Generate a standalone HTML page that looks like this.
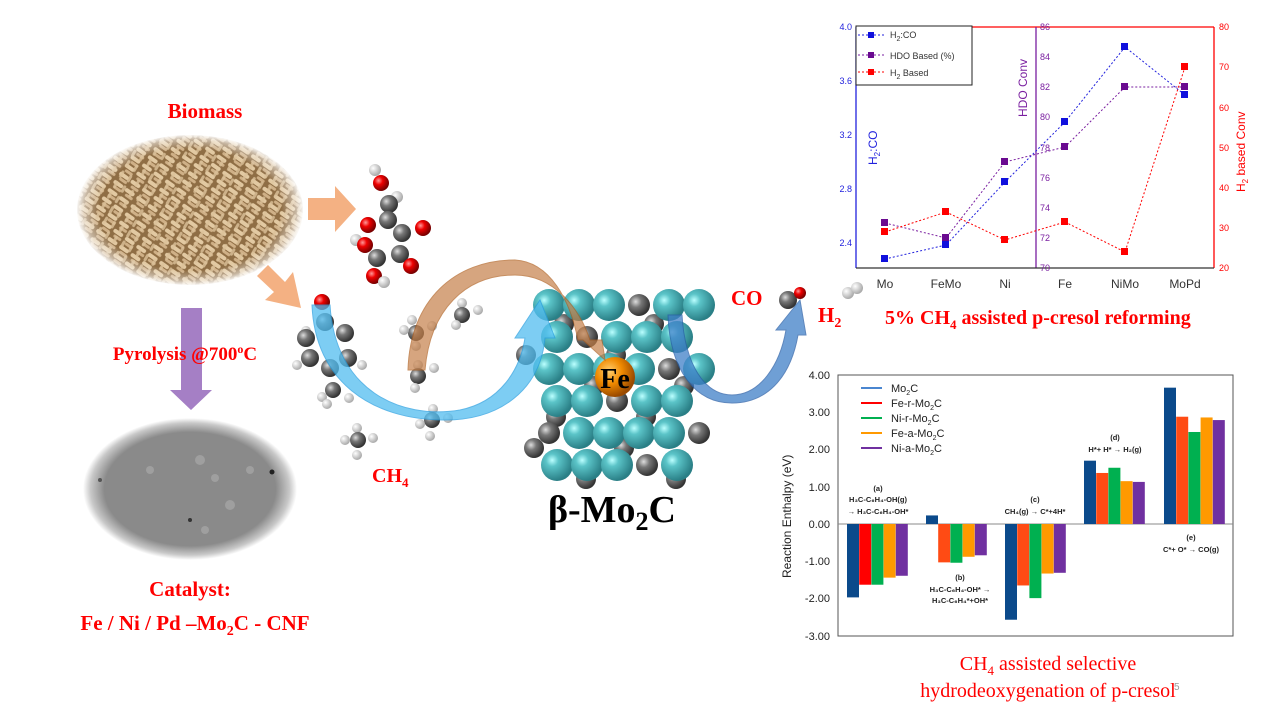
<!DOCTYPE html>
<html><head><meta charset="utf-8"><style>
body{margin:0;background:#fff}
svg{display:block}
.t{font-family:"Liberation Serif",serif;fill:#f00;font-weight:bold}
.s{font-family:"Liberation Sans",sans-serif}
</style></head><body>
<svg width="1280" height="720" viewBox="0 0 1280 720" xmlns="http://www.w3.org/2000/svg">
<defs>
<radialGradient id="bio" cx="50%" cy="50%" r="50%"><stop offset="0.8" stop-color="#fff" stop-opacity="0"/><stop offset="0.93" stop-color="#fff" stop-opacity="0.5"/><stop offset="1" stop-color="#fff" stop-opacity="1"/></radialGradient>
<radialGradient id="tem" cx="50%" cy="50%" r="50%"><stop offset="0.8" stop-color="#8a8a8a"/><stop offset="0.93" stop-color="#c8c8c8"/><stop offset="1" stop-color="#fff"/></radialGradient>
<radialGradient id="teal" cx="35%" cy="35%" r="65%"><stop offset="0" stop-color="#bff"/><stop offset="0.3" stop-color="#5bc4c8"/><stop offset="1" stop-color="#2a7f86"/></radialGradient>
<radialGradient id="gr" cx="35%" cy="35%" r="65%"><stop offset="0" stop-color="#ddd"/><stop offset="0.4" stop-color="#777"/><stop offset="1" stop-color="#333"/></radialGradient>
<radialGradient id="rd" cx="35%" cy="35%" r="65%"><stop offset="0" stop-color="#f99"/><stop offset="0.4" stop-color="#e00"/><stop offset="1" stop-color="#700"/></radialGradient>
<radialGradient id="wh" cx="35%" cy="35%" r="65%"><stop offset="0" stop-color="#fff"/><stop offset="1" stop-color="#aaa"/></radialGradient>
<radialGradient id="fe" cx="35%" cy="35%" r="65%"><stop offset="0" stop-color="#ffd070"/><stop offset="0.5" stop-color="#f08a00"/><stop offset="1" stop-color="#9a4a00"/></radialGradient>
<pattern id="pel" width="14" height="10" patternUnits="userSpaceOnUse" patternTransform="rotate(35)"><rect width="14" height="10" fill="#8f6e45"/><rect x="1" y="1" width="11" height="4" rx="2" fill="#e2c9a2"/><rect x="4" y="6" width="9" height="3" rx="1.5" fill="#cfb087"/></pattern>
<pattern id="pel2" width="12" height="9" patternUnits="userSpaceOnUse" patternTransform="rotate(-60)"><rect width="12" height="9" fill="none"/><rect x="2" y="2" width="8" height="3" rx="1.5" fill="#dcc29a" opacity="0.8"/></pattern>
</defs>

<!-- Biomass -->
<text x="205" y="118" class="t" font-size="21" text-anchor="middle">Biomass</text>
<ellipse cx="190" cy="210" rx="113" ry="75" fill="url(#pel)"/>
<ellipse cx="190" cy="210" rx="113" ry="75" fill="url(#pel2)"/>
<ellipse cx="190" cy="210" rx="114" ry="76" fill="url(#bio)"/>

<!-- orange arrows -->
<polygon points="308,198 335,198 335,186 356,209 335,232 335,220 308,220" fill="#f4b183"/>
<polygon points="268,265 285,282 293,272 301,308 265,300 274,292 257,276" fill="#f4b183"/>

<!-- purple arrow -->
<polygon points="181,308 202,308 202,390 212,390 191,410 170,390 181,390" fill="#a57fc5"/>
<text x="185" y="360" class="t" font-size="19" text-anchor="middle">Pyrolysis @700<tspan font-size="12" dy="-7">o</tspan><tspan dy="7">C</tspan></text>

<!-- TEM -->
<ellipse cx="190" cy="489" rx="107" ry="71" fill="url(#tem)"/>
<g fill="#a8a8a8" opacity="0.7"><circle cx="200" cy="460" r="5"/><circle cx="215" cy="478" r="4"/><circle cx="230" cy="505" r="5"/><circle cx="150" cy="470" r="4"/><circle cx="250" cy="470" r="4"/><circle cx="205" cy="530" r="4"/></g>
<circle cx="272" cy="472" r="2.5" fill="#222"/><circle cx="190" cy="520" r="2" fill="#333"/><circle cx="100" cy="480" r="2" fill="#555"/>
<text x="190" y="596" class="t" font-size="21" text-anchor="middle">Catalyst:</text>
<text x="195" y="630" class="t" font-size="21" text-anchor="middle">Fe / Ni / Pd –Mo<tspan font-size="14" dy="5">2</tspan><tspan dy="-5">C - CNF</tspan></text>

<!-- molecules -->
<g>
<circle cx="375" cy="170" r="6" fill="url(#wh)"/><circle cx="381" cy="183" r="8" fill="url(#rd)"/><circle cx="397" cy="197" r="6" fill="url(#wh)"/><circle cx="389" cy="204" r="9" fill="url(#gr)"/>
<circle cx="388" cy="220" r="9" fill="url(#gr)"/><circle cx="368" cy="225" r="8" fill="url(#rd)"/><circle cx="402" cy="233" r="9" fill="url(#gr)"/><circle cx="423" cy="228" r="8" fill="url(#rd)"/>
<circle cx="356" cy="240" r="6" fill="url(#wh)"/><circle cx="365" cy="245" r="8" fill="url(#rd)"/><circle cx="377" cy="258" r="9" fill="url(#gr)"/><circle cx="400" cy="254" r="9" fill="url(#gr)"/>
<circle cx="410" cy="266" r="6" fill="url(#wh)"/><circle cx="411" cy="266" r="8" fill="url(#rd)"/><circle cx="374" cy="276" r="8" fill="url(#rd)"/><circle cx="384" cy="282" r="6" fill="url(#wh)"/>
<circle cx="322" cy="300" r="5" fill="url(#wh)"/><circle cx="322" cy="302" r="8" fill="url(#rd)"/><circle cx="325" cy="322" r="9" fill="url(#gr)"/><circle cx="345" cy="333" r="9" fill="url(#gr)"/>
<circle cx="306" cy="331" r="5" fill="url(#wh)"/><circle cx="306" cy="338" r="9" fill="url(#gr)"/><circle cx="348" cy="358" r="9" fill="url(#gr)"/><circle cx="310" cy="358" r="9" fill="url(#gr)"/>
<circle cx="330" cy="368" r="9" fill="url(#gr)"/><circle cx="362" cy="365" r="5" fill="url(#wh)"/><circle cx="297" cy="365" r="5" fill="url(#wh)"/><circle cx="333" cy="390" r="8" fill="url(#gr)"/>
<circle cx="322" cy="397" r="5" fill="url(#wh)"/><circle cx="349" cy="398" r="5" fill="url(#wh)"/><circle cx="327" cy="404" r="5" fill="url(#wh)"/>
<circle cx="412" cy="320" r="5" fill="url(#wh)"/><circle cx="416" cy="333" r="8" fill="url(#gr)"/><circle cx="404" cy="330" r="5" fill="url(#wh)"/><circle cx="432" cy="326" r="5" fill="url(#wh)"/><circle cx="416" cy="346" r="5" fill="url(#wh)"/>
<circle cx="462" cy="303" r="5" fill="url(#wh)"/><circle cx="462" cy="315" r="8" fill="url(#gr)"/><circle cx="478" cy="310" r="5" fill="url(#wh)"/><circle cx="456" cy="325" r="5" fill="url(#wh)"/>
<circle cx="418" cy="365" r="5" fill="url(#wh)"/><circle cx="418" cy="376" r="8" fill="url(#gr)"/><circle cx="434" cy="368" r="5" fill="url(#wh)"/><circle cx="415" cy="388" r="5" fill="url(#wh)"/>
<circle cx="433" cy="409" r="5" fill="url(#wh)"/><circle cx="432" cy="420" r="8" fill="url(#gr)"/><circle cx="448" cy="418" r="5" fill="url(#wh)"/><circle cx="420" cy="424" r="5" fill="url(#wh)"/><circle cx="430" cy="436" r="5" fill="url(#wh)"/>
<circle cx="357" cy="428" r="5" fill="url(#wh)"/><circle cx="358" cy="440" r="8" fill="url(#gr)"/><circle cx="373" cy="438" r="5" fill="url(#wh)"/><circle cx="345" cy="440" r="5" fill="url(#wh)"/><circle cx="357" cy="455" r="5" fill="url(#wh)"/>
</g>
<text x="372" y="482" class="t" font-size="20" font-weight="normal">CH<tspan font-size="13" dy="5">4</tspan></text>

<!-- Mo2C cluster -->
<g id="cl"></g>
<circle cx="615" cy="377" r="20" fill="url(#fe)"/>
<text x="615" y="388" font-family="Liberation Serif,serif" font-weight="bold" font-size="28" text-anchor="middle">Fe</text>

<!-- arrows -->
<path d="M312,305 L330,305 C335,390 400,420 460,410 C500,402 520,370 525,338 L515,338 L540,300 L555,338 L545,338 C540,390 500,420 445,420 C370,420 315,380 312,305 Z" fill="#52bdf0" opacity="0.75" stroke="#2a9fe0"/>
<path d="M408,370 L425,370 C430,310 465,275 515,275 C555,275 580,310 590,340 L602,340 L605,360 L583,340 L578,340 C570,300 550,262 515,260 C455,260 410,300 408,370 Z" fill="#c5804a" opacity="0.7" stroke="#b06020"/>
<path d="M668,315 L682,315 C685,365 705,395 732,395 C760,395 780,365 786,330 L776,330 L800,300 L806,335 L798,335 C790,380 765,403 732,403 C695,403 670,370 668,315 Z" fill="#3f80c8" opacity="0.75" stroke="#2a60a8"/>

<text x="612" y="522" font-family="Liberation Serif,serif" font-weight="bold" font-size="38" text-anchor="middle">β-Mo<tspan font-size="26" dy="8">2</tspan><tspan dy="-8">C</tspan></text>

<text x="731" y="305" class="t" font-size="21">CO</text>
<circle cx="788" cy="300" r="9" fill="url(#gr)"/><circle cx="800" cy="293" r="6" fill="url(#rd)"/>
<circle cx="848" cy="293" r="6" fill="url(#wh)"/><circle cx="857" cy="288" r="6" fill="url(#wh)"/>
<text x="818" y="322" class="t" font-size="21">H<tspan font-size="14" dy="5">2</tspan></text>
<text x="885" y="324" class="t" font-size="20" font-weight="normal">5% CH<tspan font-size="13" dy="5">4</tspan><tspan dy="-5"> assisted p-cresol reforming</tspan></text>

<!-- top chart -->
<g class="s">
<line x1="972" y1="27" x2="1214" y2="27" stroke="#f00" stroke-width="1.3"/>
<line x1="856" y1="27" x2="856" y2="268" stroke="#2222dd" stroke-width="1.3"/>
<line x1="1036" y1="27" x2="1036" y2="268" stroke="#7a1fa0" stroke-width="1.3"/>
<line x1="1214" y1="27" x2="1214" y2="268" stroke="#f00" stroke-width="1.3"/>
<line x1="856" y1="268" x2="1214" y2="268" stroke="#333" stroke-width="1.3"/>
<g font-size="9" fill="#2222dd" text-anchor="end"><text x="852" y="30">4.0</text><text x="852" y="84">3.6</text><text x="852" y="138">3.2</text><text x="852" y="192">2.8</text><text x="852" y="246">2.4</text></g>
<g font-size="9" fill="#7a1fa0"><text x="1040" y="30">86</text><text x="1040" y="60">84</text><text x="1040" y="90">82</text><text x="1040" y="120">80</text><text x="1040" y="151">78</text><text x="1040" y="181">76</text><text x="1040" y="211">74</text><text x="1040" y="241">72</text><text x="1040" y="271">70</text></g>
<g font-size="9" fill="#f00"><text x="1219" y="30">80</text><text x="1219" y="70">70</text><text x="1219" y="111">60</text><text x="1219" y="151">50</text><text x="1219" y="191">40</text><text x="1219" y="231">30</text><text x="1219" y="271">20</text></g>
<g font-size="12" fill="#333" text-anchor="middle"><text x="885" y="288">Mo</text><text x="946" y="288">FeMo</text><text x="1005" y="288">Ni</text><text x="1065" y="288">Fe</text><text x="1125" y="288">NiMo</text><text x="1185" y="288">MoPd</text></g>
<text transform="translate(877,165) rotate(-90)" font-size="12" fill="#2222dd">H<tspan font-size="8" dy="3">2</tspan><tspan dy="-3">:CO</tspan></text>
<text transform="translate(1027,117) rotate(-90)" font-size="12" fill="#7a1fa0">HDO Conv</text>
<text transform="translate(1245,192) rotate(-90)" font-size="12" fill="#f00">H<tspan font-size="8" dy="3">2</tspan><tspan dy="-3"> based Conv</tspan></text>
<polyline points="885,259 946,245 1005,182 1065,122 1125,47 1185,95" fill="none" stroke="#2222dd" stroke-dasharray="2,2"/>
<polyline points="885,223 946,238 1005,162 1065,147 1125,87 1185,87" fill="none" stroke="#7a1fa0" stroke-dasharray="2,2"/>
<polyline points="885,232 946,212 1005,240 1065,222 1125,252 1185,67" fill="none" stroke="#f00" stroke-dasharray="2,2"/>
<g fill="#1010dd"><rect x="881" y="255" width="7" height="7"/><rect x="942" y="241" width="7" height="7"/><rect x="1001" y="178" width="7" height="7"/><rect x="1061" y="118" width="7" height="7"/><rect x="1121" y="43" width="7" height="7"/><rect x="1181" y="91" width="7" height="7"/></g>
<g fill="#6a0a90"><rect x="881" y="219" width="7" height="7"/><rect x="942" y="234" width="7" height="7"/><rect x="1001" y="158" width="7" height="7"/><rect x="1061" y="143" width="7" height="7"/><rect x="1121" y="83" width="7" height="7"/><rect x="1181" y="83" width="7" height="7"/></g>
<g fill="#f00"><rect x="881" y="228" width="7" height="7"/><rect x="942" y="208" width="7" height="7"/><rect x="1001" y="236" width="7" height="7"/><rect x="1061" y="218" width="7" height="7"/><rect x="1121" y="248" width="7" height="7"/><rect x="1181" y="63" width="7" height="7"/></g>
<rect x="856" y="26" width="116" height="59" fill="#fff" stroke="#222"/>
<g font-size="9" fill="#333">
<line x1="858" y1="35" x2="886" y2="35" stroke="#2222dd" stroke-dasharray="2,2"/><rect x="868" y="32" width="6" height="6" fill="#1010dd"/><text x="890" y="38">H<tspan font-size="7" dy="3">2</tspan><tspan dy="-3">:CO</tspan></text>
<line x1="858" y1="55" x2="886" y2="55" stroke="#7a1fa0" stroke-dasharray="2,2"/><rect x="868" y="52" width="6" height="6" fill="#6a0a90"/><text x="890" y="59">HDO Based (%)</text>
<line x1="858" y1="72" x2="886" y2="72" stroke="#f00" stroke-dasharray="2,2"/><rect x="868" y="69" width="6" height="6" fill="#f00"/><text x="890" y="76">H<tspan font-size="7" dy="3">2</tspan><tspan dy="-3"> Based</tspan></text>
</g>
</g>

<!-- bottom chart -->
<g class="s">
<rect x="838" y="375" width="395" height="261" fill="#fff" stroke="#555"/>
<line x1="838" y1="524" x2="1233" y2="524" stroke="#888"/>
<g font-size="11" fill="#222" text-anchor="end"><text x="830" y="379">4.00</text><text x="830" y="416">3.00</text><text x="830" y="453">2.00</text><text x="830" y="491">1.00</text><text x="830" y="528">0.00</text><text x="830" y="565">-1.00</text><text x="830" y="602">-2.00</text><text x="830" y="640">-3.00</text></g>
<text transform="translate(791,578) rotate(-90)" font-size="12" fill="#222">Reaction Enthalpy (eV)</text>
<g id="bars"></g>
<g font-size="11" fill="#222">
<line x1="861" y1="388" x2="882" y2="388" stroke="#4a86d0" stroke-width="2"/><text x="891" y="392">Mo<tspan font-size="7" dy="3">2</tspan><tspan dy="-3">C</tspan></text>
<line x1="861" y1="403" x2="882" y2="403" stroke="#f00" stroke-width="2"/><text x="891" y="407">Fe-r-Mo<tspan font-size="7" dy="3">2</tspan><tspan dy="-3">C</tspan></text>
<line x1="861" y1="418" x2="882" y2="418" stroke="#00b050" stroke-width="2"/><text x="891" y="422">Ni-r-Mo<tspan font-size="7" dy="3">2</tspan><tspan dy="-3">C</tspan></text>
<line x1="861" y1="433" x2="882" y2="433" stroke="#ff9900" stroke-width="2"/><text x="891" y="437">Fe-a-Mo<tspan font-size="7" dy="3">2</tspan><tspan dy="-3">C</tspan></text>
<line x1="861" y1="448" x2="882" y2="448" stroke="#7030a0" stroke-width="2"/><text x="891" y="452">Ni-a-Mo<tspan font-size="7" dy="3">2</tspan><tspan dy="-3">C</tspan></text>
</g>
<g font-size="7.5" font-weight="bold" fill="#222" text-anchor="middle">
<text x="878" y="491">(a)</text><text x="878" y="502">H₃C-C₆H₄-OH(g)</text><text x="878" y="514">→ H₃C-C₆H₄-OH*</text>
<text x="960" y="580">(b)</text><text x="960" y="592">H₃C-C₆H₄-OH* →</text><text x="960" y="603">H₃C-C₆H₄*+OH*</text>
<text x="1035" y="502">(c)</text><text x="1035" y="514">CH₄(g) → C*+4H*</text>
<text x="1115" y="440">(d)</text><text x="1115" y="452">H*+ H* → H₂(g)</text>
<text x="1191" y="540">(e)</text><text x="1191" y="552">C*+ O* → CO(g)</text>
</g>
</g>
<text x="1048" y="670" font-family="Liberation Serif,serif" font-size="20" fill="#f00" text-anchor="middle">CH<tspan font-size="13" dy="5">4</tspan><tspan dy="-5"> assisted selective</tspan></text>
<text x="1048" y="697" font-family="Liberation Serif,serif" font-size="20" fill="#f00" text-anchor="middle">hydrodeoxygenation of p-cresol</text>
<text x="1174" y="690" font-family="Liberation Sans,sans-serif" font-size="10" fill="#999">5</text>
</svg>
<script>
var ns="http://www.w3.org/2000/svg";
function c(g,x,y,r,f){var e=document.createElementNS(ns,"circle");e.setAttribute("cx",x);e.setAttribute("cy",y);e.setAttribute("r",r);e.setAttribute("fill",f);g.appendChild(e);}
var cl=document.getElementById("cl");
for(var row=0;row<6;row++){for(var col=0;col<6;col++){var x=548+col*30+(row%2?-8:0),y=308+row*31;
 if((row+col)%3==1){c(cl,x-14,y+16,10,"url(#gr)");}}}
for(var row=0;row<6;row++){for(var col=0;col<6;col++){var x=549+col*30+(row%2?8:0),y=305+row*32;
 if(x>700)continue; if((row*2+col)%5==3) c(cl,x,y,11,"url(#gr)"); else c(cl,x,y,16,"url(#teal)");}}
var b=document.getElementById("bars");
var cols=["#0b4a8b","#ff4b14","#00b050","#ff9900","#7030a0"];
var st=[847,926,1005,1084,1164];
var v=[[-1.97,-1.63,-1.63,-1.44,-1.39],[0.23,-1.03,-1.04,-0.88,-0.84],[-2.57,-1.65,-1.99,-1.33,-1.31],[1.70,1.37,1.51,1.15,1.13],[3.66,2.88,2.47,2.86,2.79]];
for(var g=0;g<5;g++)for(var i=0;i<5;i++){var h=v[g][i]*37.25,r=document.createElementNS(ns,"rect");
r.setAttribute("x",st[g]+i*12.2);r.setAttribute("width",12);r.setAttribute("y",h>0?524-h:524);r.setAttribute("height",Math.abs(h));
r.setAttribute("fill",(g==0&&i==1)?"#ff0000":cols[i]);b.appendChild(r);}
</script>
</body></html>
